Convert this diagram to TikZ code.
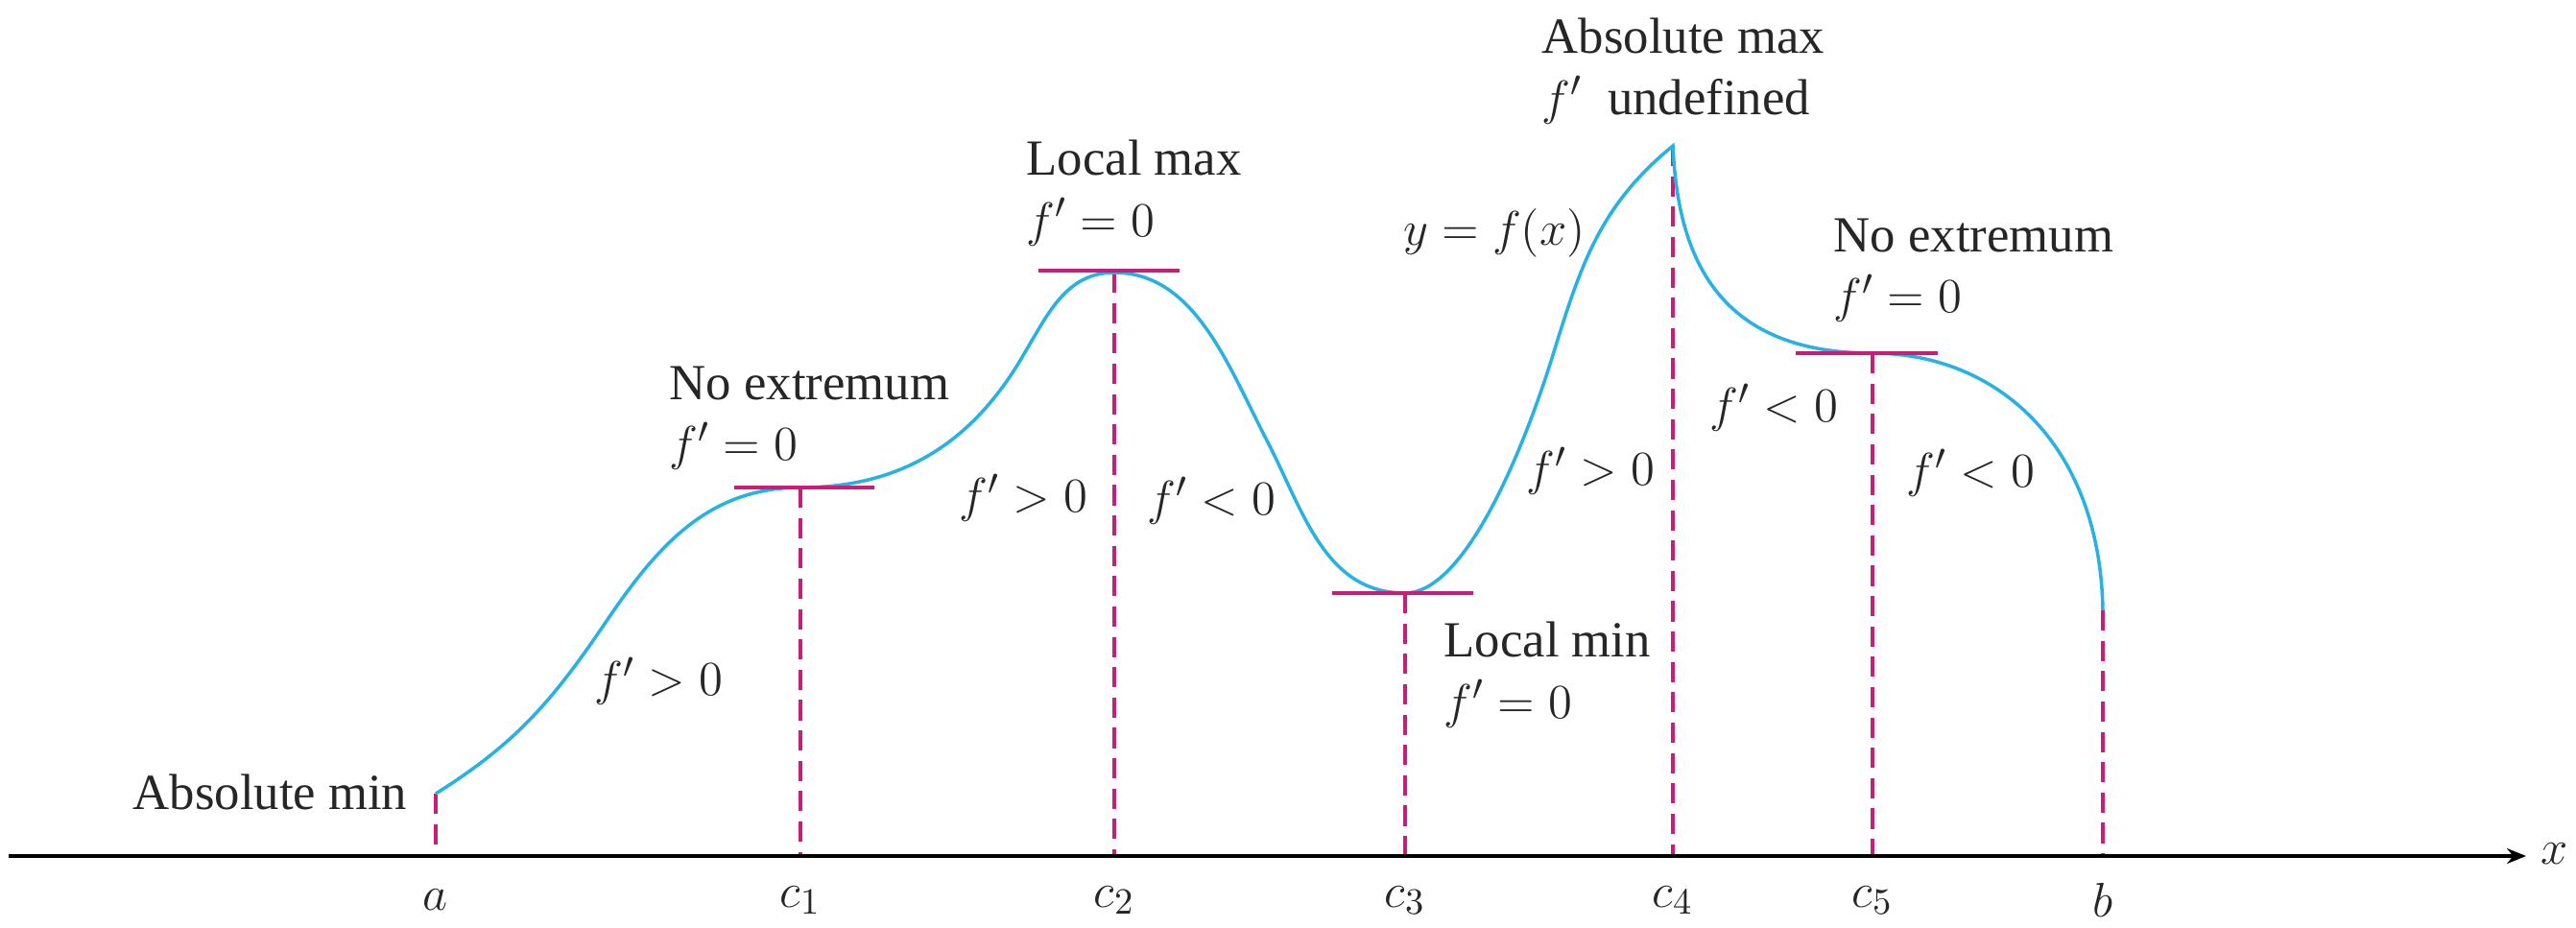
\documentclass[tikz,border=0pt]{standalone}
\usepackage{fontspec}
\setmainfont{Liberation Serif}
\usetikzlibrary{arrows.meta}

\definecolor{fcurve}{RGB}{40,178,228}
\definecolor{tanmag}{RGB}{200,30,120}

\begin{document}
\begin{tikzpicture}[
		>={Stealth[length=2mm,width=1.6mm]},
		lbl/.style    ={inner sep=0pt,font=\fontsize{15}{18}\selectfont,text=black!85},
		twoline/.style={lbl,align=left,anchor=west},
		graph/.style  ={draw=fcurve,line width=1pt},
		tangent/.style={draw=tanmag,line width=1.4pt},
		drop/.style   ={draw=tanmag,line width=0.9pt,dash pattern=on 6pt off 3pt},
		axis/.style   ={draw,->,line width=1.1pt}
		]

		% =====================================================
		% graph of f on [a,b] with critical points c_1..c_5
		% =====================================================
		\useasboundingbox (0,-0.74) rectangle (26.84,8.92);

		% ---- x-axis ----
		\coordinate (axl) at ( 0.09, 0);
		\coordinate (axr) at (26.32, 0);
		\node[lbl] (xlbl) at (26.62, 0.02) {$x$};

		% ---- foot points on the axis ----
		\coordinate (xa)  at ( 4.54, 0);
		\coordinate (xc1) at ( 8.34, 0);
		\coordinate (xc2) at (11.61, 0);
		\coordinate (xc3) at (14.64, 0);
		\coordinate (xc4) at (17.43, 0);
		\coordinate (xc5) at (19.51, 0);
		\coordinate (xb)  at (21.91, 0);

		% ---- points on the graph ----
		\coordinate (pa)  at ( 4.54, 0.65);
		\coordinate (pc1) at ( 8.34, 3.84);
		\coordinate (pc2) at (11.61, 6.08);
		\coordinate (pc3) at (14.64, 2.74);
		\coordinate (pc4) at (17.43, 7.40);
		\coordinate (pc5) at (19.51, 5.24);
		\coordinate (pb)  at (21.91, 2.56);

		% ---- dashed drops to the axis ----
		\draw[drop] (pa)  -- (xa);
		\draw[drop] (pc1) -- (xc1);
		\draw[drop] (pc2) -- (xc2);
		\draw[drop] (pc3) -- (xc3);
		\draw[drop] (pc4) -- (xc4);
		\draw[drop] (pc5) -- (xc5);
		\draw[drop] (pb)  -- (xb);

		% ---- y = f(x), corner at c4 ----
		\draw[graph] (pa)
			.. controls ( 5.37,1.17) and ( 5.75,1.61) .. ( 6.30,2.42)
			.. controls ( 6.84,3.22) and ( 7.37,3.84) .. (pc1)
			.. controls ( 9.41,3.84) and (10.15,4.32) .. (10.68,5.25)
			.. controls (10.93,5.67) and (11.12,6.08) .. (pc2)
			.. controls (12.45,6.08) and (12.80,5.10) .. (13.20,4.33)
			.. controls (13.58,3.60) and (13.80,2.74) .. (pc3)
			.. controls (15.25,2.74) and (15.85,4.16) .. (16.18,5.22)
			.. controls (16.47,6.16) and (16.67,6.78) .. (pc4)
			.. controls (17.48,6.30) and (17.85,5.24) .. (pc5)
			.. controls (20.80,5.24) and (21.88,4.30) .. (pb);

		% ---- horizontal tangents where f' = 0 ----
		\draw[tangent] ( 7.65,3.84) -- ( 9.11,3.84);
		\draw[tangent] (10.82,6.10) -- (12.29,6.10);
		\draw[tangent] (13.88,2.74) -- (15.35,2.74);
		\draw[tangent] (18.71,5.24) -- (20.19,5.24);

		% ---- axis on top ----
		\draw[axis] (axl) -- (axr);

		% ---- axis labels ----
		\node[lbl] (la)  at ( 4.54,-0.46) {$a$};
		\node[lbl] (lc1) at ( 8.34,-0.46) {$c_1$};
		\node[lbl] (lc2) at (11.61,-0.46) {$c_2$};
		\node[lbl] (lc3) at (14.64,-0.46) {$c_3$};
		\node[lbl] (lc4) at (17.43,-0.46) {$c_4$};
		\node[lbl] (lc5) at (19.51,-0.46) {$c_5$};
		\node[lbl] (lb)  at (21.91,-0.46) {$b$};

		% ---- point descriptions ----
		\node[lbl,anchor=east] (amin) at (4.25,0.67) {Absolute min};
		\node[twoline] (noext1) at ( 6.97,4.56) {No extremum\\$f'=0$};
		\node[twoline] (lmax)   at (10.69,6.91) {Local max\\$f'=0$};
		\node[twoline] (lmin)   at (15.04,1.89) {Local min\\$f'=0$};
		\node[twoline] (amax)   at (16.06,8.18) {Absolute max\\$f'$\ \ undefined};
		\node[twoline] (noext2) at (19.10,6.10) {No extremum\\$f'=0$};

		% ---- sign of f' on each piece ----
		\node[lbl] (s1) at ( 6.86,1.82) {$f'>0$};
		\node[lbl] (s2) at (10.66,3.73) {$f'>0$};
		\node[lbl] (s3) at (12.62,3.70) {$f'<0$};
		\node[lbl] (s4) at (16.57,4.01) {$f'>0$};
		\node[lbl] (s5) at (18.48,4.67) {$f'<0$};
		\node[lbl] (s6) at (20.53,3.99) {$f'<0$};
		\node[lbl] (fx) at (15.57,6.49) {$y=f(x)$};

	\end{tikzpicture}
\end{document}
